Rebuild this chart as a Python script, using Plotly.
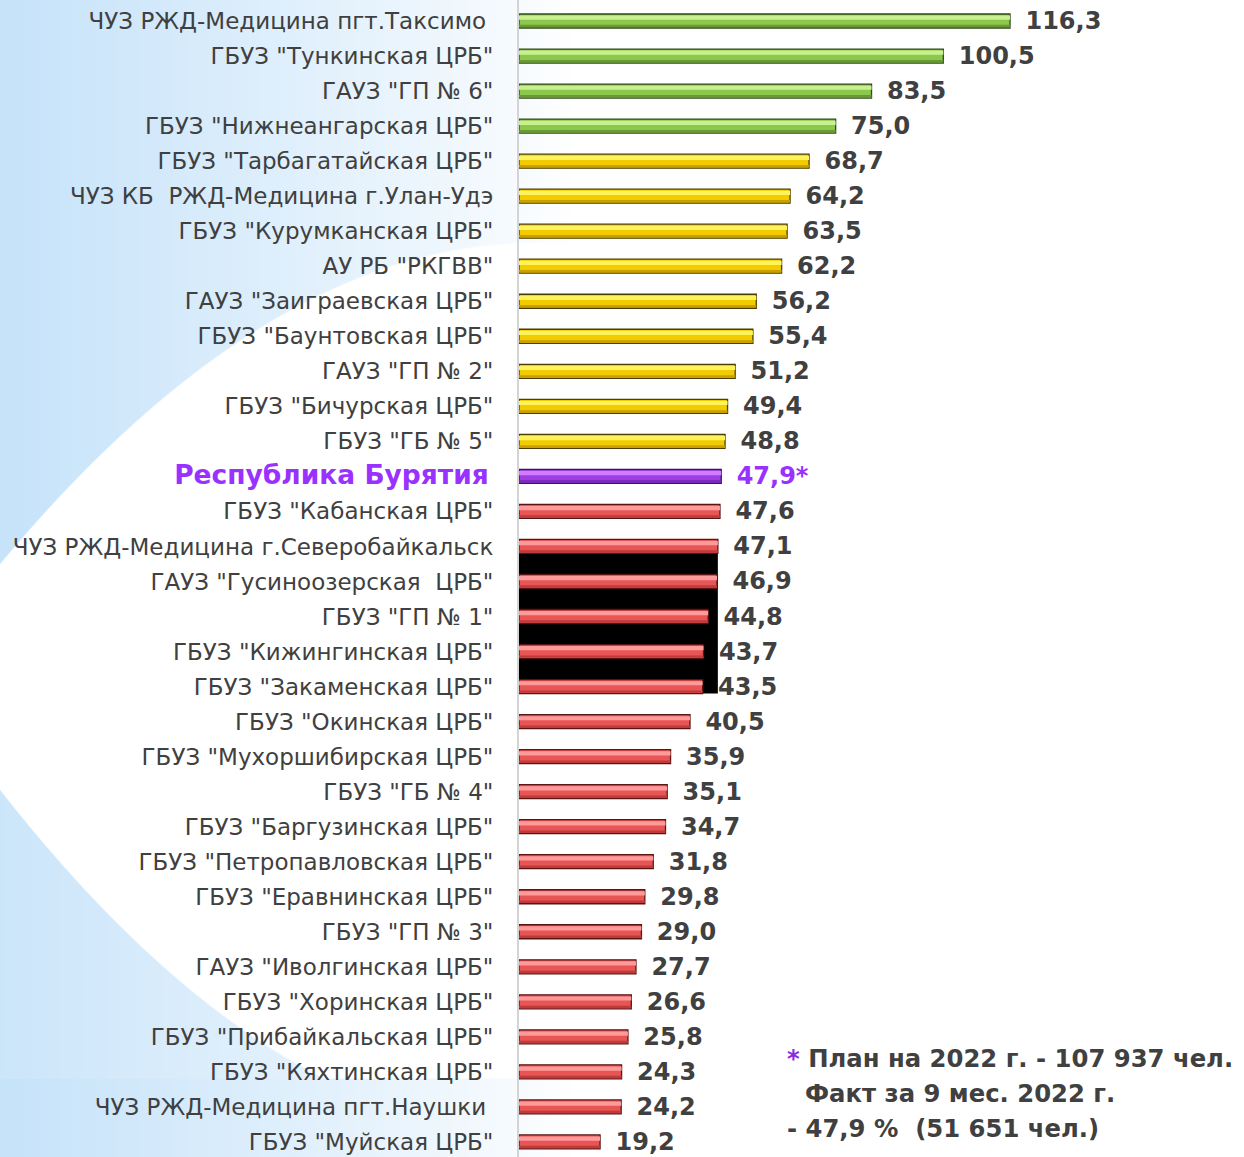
import base64
import struct
import zlib

import numpy as np
import plotly.graph_objects as go

# ---------------- data ----------------
categories = [
    "ЧУЗ РЖД-Медицина пгт.Таксимо\u00a0",
    'ГБУЗ "Тункинская ЦРБ"',
    'ГАУЗ "ГП № 6"',
    'ГБУЗ "Нижнеангарская ЦРБ"',
    'ГБУЗ "Тарбагатайская ЦРБ"',
    "ЧУЗ КБ \u00a0РЖД-Медицина г.Улан-Удэ",
    'ГБУЗ "Курумканская ЦРБ"',
    'АУ РБ "РКГВВ"',
    'ГАУЗ "Заиграевская ЦРБ"',
    'ГБУЗ "Баунтовская ЦРБ"',
    'ГАУЗ "ГП № 2"',
    'ГБУЗ "Бичурская ЦРБ"',
    'ГБУЗ "ГБ № 5"',
    "Республика Бурятия",
    'ГБУЗ "Кабанская ЦРБ"',
    "ЧУЗ РЖД-Медицина г.Северобайкальск",
    'ГАУЗ "Гусиноозерская \u00a0ЦРБ"',
    'ГБУЗ "ГП № 1"',
    'ГБУЗ "Кижингинская ЦРБ"',
    'ГБУЗ "Закаменская ЦРБ"',
    'ГБУЗ "Окинская ЦРБ"',
    'ГБУЗ "Мухоршибирская ЦРБ"',
    'ГБУЗ "ГБ № 4"',
    'ГБУЗ "Баргузинская ЦРБ"',
    'ГБУЗ "Петропавловская ЦРБ"',
    'ГБУЗ "Еравнинская ЦРБ"',
    'ГБУЗ "ГП № 3"',
    'ГАУЗ "Иволгинская ЦРБ"',
    'ГБУЗ "Хоринская ЦРБ"',
    'ГБУЗ "Прибайкальская ЦРБ"',
    'ГБУЗ "Кяхтинская ЦРБ"',
    "ЧУЗ РЖД-Медицина пгт.Наушки\u00a0",
    'ГБУЗ "Муйская ЦРБ"',
]
values = [116.3, 100.5, 83.5, 75.0, 68.7, 64.2, 63.5, 62.2, 56.2, 55.4, 51.2,
          49.4, 48.8, 47.9, 47.6, 47.1, 46.9, 44.8, 43.7, 43.5, 40.5, 35.9,
          35.1, 34.7, 31.8, 29.8, 29.0, 27.7, 26.6, 25.8, 24.3, 24.2, 19.2]
# group of each bar: g = above 75 %, y = above republic, p = republic, r = below
groups = ["g"] * 4 + ["y"] * 9 + ["p"] + ["r"] * 19
total_label = "Республика Бурятия"
footnote_lines = [
    "<span style='color:#8a2be2'>*</span> План на 2022 г. - 107 937 чел.",
    "Факт за 9 мес. 2022 г.",
    "- 47,9 % \u00a0(51 651 чел.)",
]

# ---------------- styles ----------------
PURPLE = "#9932ff"
TEXT = "#404040"
base_col = {"g": "#8cc84e", "y": "#f2cc00", "p": "#9d3fe0", "r": "#e85555"}
light_col = {"g": "#c8f08e", "y": "#fff35c", "p": "#d27cff", "r": "#ff9a9a"}
dark_col = {"g": "#6a9a34", "y": "#c9a000", "p": "#7a28b8", "r": "#c03a3a"}
edge_col = {"g": "#2f4a18", "y": "#4d3d00", "p": "#3a1060", "r": "#5a1414"}

FIG_W, FIG_H = 1244, 1157
L_MARGIN = 519
PLOT_W = FIG_W - L_MARGIN
PX_PER_UNIT = 4.222


def fmt(v):
    return f"{v:.1f}".replace(".", ",")


ticktext = []
for c in categories:
    if c == total_label:
        ticktext.append(f"<b><span style='color:{PURPLE};font-size:26.5px'>{c}</span></b>\u2009")
    else:
        ticktext.append(c)

bar_text = []
text_colors = []
for v, g in zip(values, groups):
    if g == "p":
        bar_text.append("\u00a0\u2009<b>" + fmt(v) + "*</b>")
        text_colors.append(PURPLE)
    else:
        bar_text.append("\u00a0\u2009<b>" + fmt(v) + "</b>")
        text_colors.append(TEXT)

# ---------------- background picture (decorative) ----------------
IMG_W, IMG_H = 620, FIG_H
xs = np.arange(IMG_W, dtype=float)[None, :]
ys = np.arange(IMG_H, dtype=float)[:, None]
grad = np.clip((570.0 - xs) / 570.0, 0, 1) ** 0.85
yA = 563 - 1.198 * xs + 0.001119 * xs ** 2
yB = 790 + 1.276 * xs - 0.001191 * xs ** 2
mA = np.clip((yA - ys) / 2.0 + 0.5, 0, 1)
mB = np.clip((ys - yB) / 2.0 + 0.5, 0, 1)
mC = np.clip((ys - 1078) / 2.0 + 0.5, 0, 1)
alpha = grad * np.maximum(np.maximum(mA, mB * 0.9), mC)
blue = np.array([198, 227, 250], dtype=float)
white = np.array([255, 255, 255], dtype=float)
rgb = (white[None, None, :] * (1 - alpha[..., None]) + blue[None, None, :] * alpha[..., None])
rgb = np.clip(rgb, 0, 255).astype(np.uint8)


def make_png(arr):
    h, w, _ = arr.shape
    raw = b"".join(b"\x00" + arr[i].tobytes() for i in range(h))

    def chunk(t, d):
        return struct.pack(">I", len(d)) + t + d + struct.pack(">I", zlib.crc32(t + d) & 0xFFFFFFFF)

    return (b"\x89PNG\r\n\x1a\n"
            + chunk(b"IHDR", struct.pack(">IIBBBBB", w, h, 8, 2, 0, 0, 0))
            + chunk(b"IDAT", zlib.compress(raw, 9))
            + chunk(b"IEND", b""))


bg_uri = "data:image/png;base64," + base64.b64encode(make_png(rgb)).decode()

# ---------------- figure ----------------
fig = go.Figure()

fig.add_trace(go.Bar(
    y=categories, x=values, orientation="h", width=0.4,
    marker=dict(color=[base_col[g] for g in groups],
                line=dict(color=[edge_col[g] for g in groups], width=1.3)),
    text=bar_text, textposition="outside", constraintext="none", cliponaxis=False,
    textfont=dict(family="DejaVu Sans", size=24, color=text_colors),
    hoverinfo="x+y", showlegend=False,
))
# bevel highlight / shadow bands
fig.add_trace(go.Bar(
    y=categories, x=values, orientation="h", width=0.12, offset=-0.155,
    marker=dict(color=[light_col[g] for g in groups], line=dict(width=0)),
    hoverinfo="skip", showlegend=False,
))
fig.add_trace(go.Bar(
    y=categories, x=values, orientation="h", width=0.07, offset=0.11,
    marker=dict(color=[dark_col[g] for g in groups], line=dict(width=0)),
    hoverinfo="skip", showlegend=False,
))

# black block visible in the original picture behind several red bars
fig.add_shape(type="rect", xref="x", yref="y", x0=0, x1=values[15],
              y0=15.2, y1=19.2, fillcolor="black", line=dict(width=0), layer="below")

for i, line in enumerate(footnote_lines):
    px_x = 785 if i != 1 else 803
    px_y = 1058 + 35 * i
    fig.add_annotation(
        xref="paper", yref="paper",
        x=(px_x - L_MARGIN) / PLOT_W, y=1 - px_y / FIG_H,
        xanchor="left", yanchor="middle", showarrow=False,
        text=f"<b>{line}</b>",
        font=dict(family="DejaVu Sans", size=24.3, color=TEXT),
        align="left",
    )

fig.update_layout(
    width=FIG_W, height=FIG_H,
    margin=dict(l=L_MARGIN, r=0, t=0, b=0, pad=0),
    paper_bgcolor="white", plot_bgcolor="rgba(0,0,0,0)",
    barmode="overlay", bargap=0.6,
    font=dict(family="DejaVu Sans", color=TEXT),
    images=[dict(source=bg_uri, xref="paper", yref="paper",
                 x=-L_MARGIN / PLOT_W, y=1, sizex=IMG_W / PLOT_W, sizey=1,
                 xanchor="left", yanchor="top", sizing="stretch", layer="below")],
    xaxis=dict(visible=False, range=[0, PLOT_W / PX_PER_UNIT], fixedrange=True),
    yaxis=dict(
        type="category", categoryorder="array", categoryarray=categories,
        tickmode="array", tickvals=categories, ticktext=ticktext,
        range=[32.43, -0.6], showgrid=False, zeroline=False,
        showline=True, linecolor="#d4d4d4", linewidth=2,
        ticks="", ticklabelstandoff=19,
        tickfont=dict(family="DejaVu Sans", size=23, color=TEXT),
    ),
)

fig.write_html(
    "out.html",
    config={"displayModeBar": False},
    post_script="document.body.style.margin='0';document.body.style.overflow='hidden';",
)
